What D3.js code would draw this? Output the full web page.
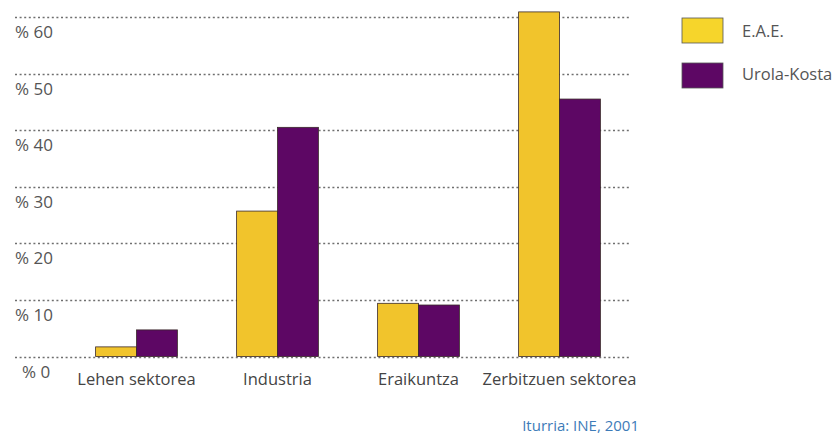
<!DOCTYPE html>
<html><head><meta charset="utf-8">
<script src="https://cdn.jsdelivr.net/npm/d3@7"></script>
<style>
body{margin:0;background:#fff;}
text{font-family:"Open Sans", Roboto, sans-serif;}
</style></head>
<body><svg id="c" width="837" height="436"></svg>
<script>
const categories = ["Lehen sektorea","Industria","Eraikuntza","Zerbitzuen sektorea"];
const seriesNames = ["E.A.E.","Urola-Kosta"];
const eae = [1.7, 25.7, 9.4, 60.9];
const urola = [4.7, 40.5, 9.1, 45.5];
const tickValues = [0,10,20,30,40,50,60];
const tickLabels = ["% 0","% 10","% 20","% 30","% 40","% 50","% 60"];
const source = "Iturria: INE, 2001";
const colors = ["#F1C42C","#5D0764"];
const legendColors = ["#F6D52B","#5D0764"];

const svg = d3.select("#c");
const y = d3.scaleLinear().domain([0,60]).range([356.5,17]);
const x = d3.scaleBand().domain(categories).range([66,630]).paddingInner(0.42).paddingOuter(0.21);
const xs = d3.scaleBand().domain(seriesNames).range([0,x.bandwidth()]);

// gridlines
svg.append("g").selectAll("line").data(tickValues).join("line")
  .attr("x1",15).attr("x2",630)
  .attr("y1",d=>Math.round(y(d))+0.5).attr("y2",d=>Math.round(y(d))+0.5)
  .attr("stroke","#6f6f6f").attr("stroke-width",1.3).attr("stroke-dasharray","2,2.6");

// y labels
svg.append("g").selectAll("text").data(tickValues).join("text")
  .attr("x",(d)=>d===0?22:15).attr("y",d=>y(d)+21)
  .attr("font-size",17).attr("fill","#555")
  .text((d,i)=>tickLabels[i]);

// bars
const data = [eae, urola];
const g = svg.append("g");
categories.forEach((c,ci)=>{
  seriesNames.forEach((s,si)=>{
    g.append("rect")
      .attr("x",x(c)+xs(s)).attr("width",xs.bandwidth())
      .attr("y",y(data[si][ci])).attr("height",y(0)-y(data[si][ci]))
      .attr("fill",colors[si]).attr("stroke","#3a2a2a").attr("stroke-width",0.8);
  });
});

// category labels
svg.append("g").selectAll("text").data(categories).join("text")
  .attr("x",d=>x(d)+x.bandwidth()/2).attr("y",385)
  .attr("text-anchor","middle").attr("font-size",16.5).attr("fill","#444")
  .text(d=>d);

// legend
const lg = svg.append("g");
seriesNames.forEach((s,i)=>{
  lg.append("rect").attr("x",682).attr("y",18+i*45).attr("width",41).attr("height",25)
    .attr("fill",legendColors[i]).attr("stroke","#555").attr("stroke-width",0.8);
  lg.append("text").attr("x",742).attr("y",37+i*43).attr("font-size",16.5).attr("fill","#555").text(s);
});

// source
svg.append("text").attr("x",639).attr("y",431).attr("text-anchor","end")
  .attr("font-size",15).attr("fill","#3d7bb8").text(source);
</script></body></html>
